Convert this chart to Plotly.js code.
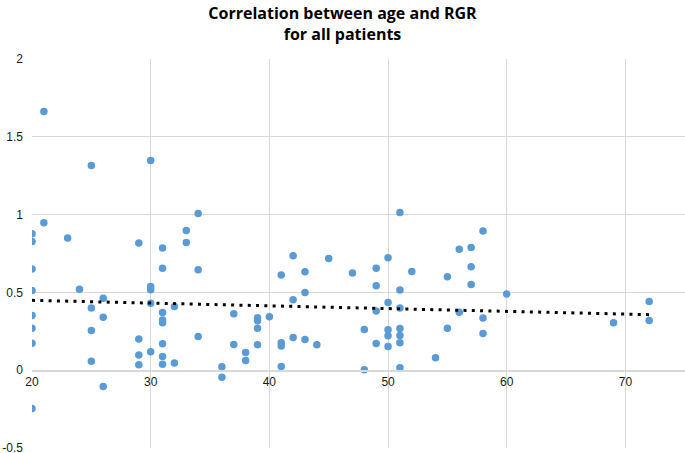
<!DOCTYPE html>
<html>
<head>
<meta charset="utf-8">
<script src="https://cdn.plot.ly/plotly-3.0.1.min.js"></script>
<style>html,body{margin:0;padding:0;background:#fff;}#chart{width:685px;height:453px;}</style>
</head>
<body>
<div id="chart"></div>
<script>
// Age (years) of each patient
const ages = [
  20,20,20,20,20,20,20,20,
  21,21,
  23,
  24,
  25,25,25,25,
  26,26,26,
  29,29,29,29,
  30,30,30,30,30,
  31,31,31,31,31,31,31,31,
  32,32,
  33,33,
  34,34,34,
  36,36,
  37,37,
  38,38,
  39,39,39,39,
  40,
  41,41,41,41,
  42,42,42,
  43,43,43,
  44,
  45,
  47,
  48,48,
  49,49,49,49,
  50,50,50,50,50,
  51,51,51,51,51,51,51,
  52,
  54,
  55,55,
  56,56,
  57,57,57,
  58,58,58,
  60,
  69,
  72,72
];
// RGR of each patient (same order as ages)
const rgr = [
  0.877,0.827,0.650,0.512,0.352,0.270,0.174,-0.246,
  1.663,0.947,
  0.849,
  0.521,
  1.316,0.399,0.255,0.058,
  0.463,0.341,-0.105,
  0.817,0.200,0.097,0.035,
  1.348,0.538,0.517,0.431,0.118,
  0.785,0.656,0.371,0.322,0.305,0.170,0.088,0.039,
  0.410,0.046,
  0.898,0.821,
  1.007,0.645,0.217,
  0.022,-0.046,
  0.363,0.165,
  0.114,0.062,
  0.337,0.318,0.270,0.164,
  0.344,
  0.612,0.176,0.155,0.024,
  0.735,0.452,0.210,
  0.632,0.500,0.197,
  0.163,
  0.718,
  0.624,
  0.262,0.003,
  0.656,0.542,0.380,0.172,
  0.722,0.435,0.260,0.221,0.152,
  1.014,0.515,0.399,0.268,0.223,0.176,0.015,
  0.634,
  0.080,
  0.600,0.269,
  0.778,0.373,
  0.789,0.665,0.551,
  0.894,0.335,0.236,
  0.489,
  0.305,
  0.442,0.320
];
// Linear trendline (end points)
const trendAges = [20, 72];
const trendRgr = [0.449, 0.357];

const xTicks = [20,30,40,50,60,70];
const yTicks = [-0.5,0,0.5,1,1.5,2];
const yTickText = ['-0.5','0','0.5','1','1.5','2'];
const chartTitle = 'Correlation between age and RGR<br>for all patients';

const grid = '#d9d9d9';
const tickFont = {family:'Liberation Sans, Arial, sans-serif', size:12, color:'#1a1a1a'};

const data = [
  {x: ages, y: rgr, type:'scatter', mode:'markers',
   marker:{color:'#5b9bd5', size:7.5}, showlegend:false, hoverinfo:'none'},
  {x: trendAges, y: trendRgr, type:'scatter', mode:'lines',
   line:{color:'#000', width:3, dash:'3px,5.3px'}, showlegend:false, hoverinfo:'none'}
];

const layout = {
  width:685, height:453,
  margin:{l:32, r:0, t:59, b:5, pad:0},
  paper_bgcolor:'#fff', plot_bgcolor:'#fff',
  title:{text:chartTitle, x:0.5, xanchor:'center', xref:'container', y:0.958, yanchor:'top', yref:'container',
         font:{family:'Open Sans, sans-serif', size:16, color:'#000', weight:'bold'}},
  xaxis:{range:[20,75.02], tickvals:xTicks, ticktext:xTicks.map(String), showgrid:true, gridcolor:grid, gridwidth:1,
         zeroline:false, showline:true, linecolor:grid, linewidth:1.5, anchor:'free', position:0.2,
         ticks:'', tickfont:tickFont, ticklabelstandoff:0, fixedrange:true},
  yaxis:{range:[-0.5,2], tickvals:yTicks, ticktext:yTickText, showgrid:true, gridcolor:grid, gridwidth:1,
         zeroline:false, showline:false, ticks:'', tickfont:tickFont, ticklabelstandoff:8,
         ticklabeloverflow:'allow', fixedrange:true}
};

Plotly.newPlot('chart', data, layout, {staticPlot:true, displayModeBar:false});
</script>
</body>
</html>
